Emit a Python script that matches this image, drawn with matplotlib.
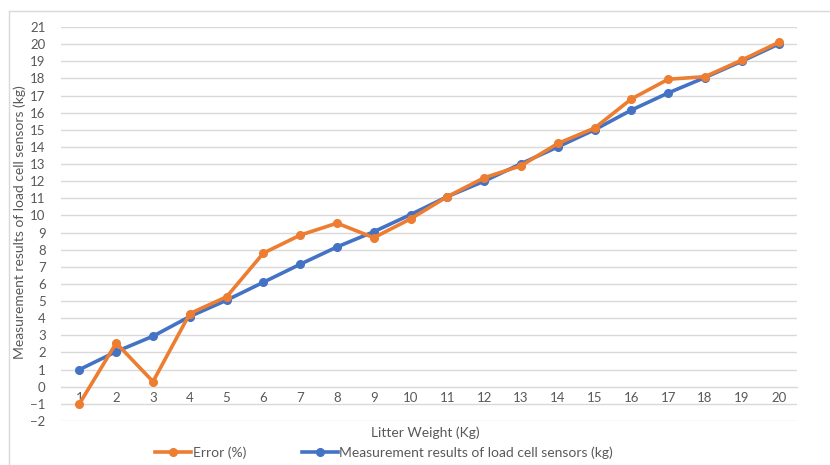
import matplotlib.pyplot as plt
from matplotlib.lines import Line2D

plt.rcParams['font.family'] = ['Lato', 'DejaVu Sans']

# datos
peso = list(range(1, 21))
error = [-1.0, 2.55, 0.3, 4.27, 5.25, 7.8, 8.85, 9.55, 8.7, 9.8,
         11.1, 12.2, 12.9, 14.2, 15.1, 16.8, 17.95, 18.1, 19.07, 20.1]
medida = [1.0, 2.05, 2.95, 4.1, 5.05, 6.1, 7.15, 8.16, 9.05, 10.05,
          11.1, 12.0, 13.02, 14.0, 15.0, 16.15, 17.15, 18.05, 19.0, 20.0]
yticks = list(range(-2, 22))

naranja = "#ED7D31"
azul = "#4472C4"
gris = "#595959"

fig = plt.figure(figsize=(8.3, 4.65), dpi=100)
ax = fig.add_axes([61 / 830, 1 - 421 / 465, (797 - 61) / 830, (421 - 27) / 465])

ax.plot(peso, medida, color=azul, lw=2.6, marker="o", ms=5.5, zorder=3,
        label="Measurement results of load cell sensors (kg)")
ax.plot(peso, error, color=naranja, lw=2.6, marker="o", ms=5.5, zorder=4,
        label="Error (%)")

ax.set_xlim(0.5, 20.5)
ax.set_ylim(-2, 21)
ax.set_yticks(yticks)
ax.set_xticks(peso)
ax.grid(axis="y", color="#D9D9D9", lw=1)
ax.set_axisbelow(True)

for s in ["top", "right", "left"]:
    ax.spines[s].set_visible(False)
ax.spines["bottom"].set_position(("data", 0))
ax.spines["bottom"].set_color("#D9D9D9")
ax.tick_params(axis="both", length=0, labelsize=9.5, labelcolor=gris)
ax.tick_params(axis="x", pad=4)
ax.tick_params(axis="y", pad=11)

fig.text(20 / 830, 1 - 222 / 465, "Measurement results of load cell sensors (kg)",
         rotation=90, ha="center", va="center", fontsize=10, color=gris)
fig.text(425 / 830, 1 - 433 / 465, "Litter Weight (Kg)", ha="center", va="center",
         fontsize=10, color=gris)

handles = [Line2D([], [], color=naranja, lw=2.6, marker="o", ms=5.5),
           Line2D([], [], color=azul, lw=2.6, marker="o", ms=5.5)]
fig.legend(handles, ["Error (%)", "Measurement results of load cell sensors (kg)"],
           loc="center", bbox_to_anchor=(384 / 830, 1 - 453 / 465), ncol=2,
           frameon=False, fontsize=10, labelcolor=gris, handlelength=2.6,
           handletextpad=0.1, columnspacing=4.0)

# borde del área del gráfico
fig.add_artist(Line2D([9 / 830, 1], [1 - 11 / 465] * 2, color="#D9D9D9", lw=1))
fig.add_artist(Line2D([9 / 830] * 2, [0, 1 - 11 / 465], color="#D9D9D9", lw=1))

fig.savefig("out.png", dpi=100)
